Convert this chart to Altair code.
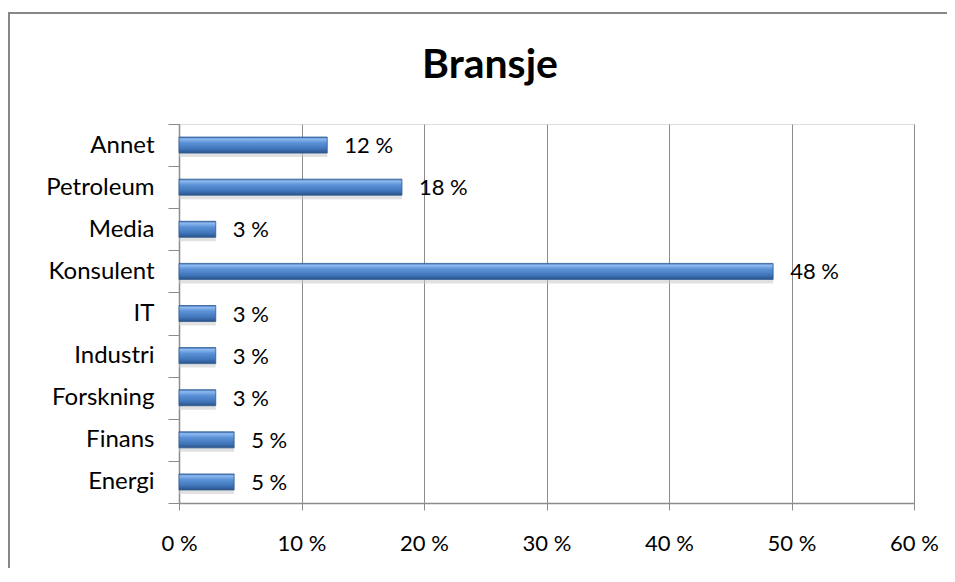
import altair as alt
import pandas as pd

# ---- data ----
categories = ["Annet", "Petroleum", "Media", "Konsulent", "IT",
              "Industri", "Forskning", "Finans", "Energi"]
values = [12.1, 18.2, 3.0, 48.5, 3.0, 3.0, 3.0, 4.5, 4.5]          # percent
value_labels = ["12 %", "18 %", "3 %", "48 %", "3 %", "3 %", "3 %", "5 %", "5 %"]
x_ticks = [0, 10, 20, 30, 40, 50, 60]
title_text = "Bransje"

df = pd.DataFrame({"Bransje": categories, "Andel": values, "Etikett": value_labels})

W, H = 735, 379
PAD = {"left": 171, "top": 116, "right": 33, "bottom": 65}
FONT = "Lato"

x_enc = alt.X(
    "Andel:Q",
    scale=alt.Scale(domain=[0, 60], nice=False, zero=True),
    axis=alt.Axis(
        title=None, values=x_ticks, labelExpr="datum.value + ' %'",
        grid=True, gridColor="#8c8c8c", gridWidth=1,
        domainColor="#8c8c8c", domainWidth=1.5,
        tickColor="#8c8c8c", tickSize=7, tickWidth=1,
        labelFont=FONT, labelFontSize=22, labelColor="#000000",
        labelPadding=23, labelFlush=False,
    ),
)
y_enc = alt.Y(
    "Bransje:N", sort=categories,
    scale=alt.Scale(paddingInner=0, paddingOuter=0),
    axis=alt.Axis(
        title=None, tickBand="extent", grid=False,
        domainColor="#8c8c8c", domainWidth=1.5,
        tickColor="#8c8c8c", tickSize=11, tickWidth=1,
        labelFont=FONT, labelFontSize=24, labelColor="#000000",
        labelPadding=14,
    ),
)

gradient = alt.Gradient(
    gradient="linear", x1=0, x2=0, y1=0, y2=1,
    stops=[
        alt.GradientStop(offset=0.0, color="#3d72bb"),
        alt.GradientStop(offset=0.12, color="#8fbaef"),
        alt.GradientStop(offset=0.35, color="#5c93d8"),
        alt.GradientStop(offset=0.75, color="#3f74b8"),
        alt.GradientStop(offset=1.0, color="#2b5389"),
    ],
)

base = alt.Chart(df)

shadow = base.mark_bar(size=16, color="#c8c8c8", opacity=0.55,
                       yOffset=4, x2Offset=4).encode(x=x_enc, y=y_enc)
bars = base.mark_bar(size=16, fill=gradient, stroke="#2f5b90",
                     strokeWidth=0.8).encode(x=x_enc, y=y_enc)
texts = base.mark_text(align="left", baseline="middle", dx=17, dy=1,
                       font=FONT, fontSize=22, color="#000000").encode(
    x=x_enc, y=y_enc, text="Etikett:N")

frame = alt.Chart(alt.Data(values=[{"b": 1}]))
border = frame.mark_rect(fill=None, stroke="#878787", strokeWidth=2).encode(
    x=alt.value(-170), x2=alt.value(W + 200),
    y=alt.value(-111), y2=alt.value(H + 200))
title = frame.mark_text(font=FONT, fontSize=41, fontWeight="bold",
                        color="#000000", align="center",
                        baseline="alphabetic").encode(
    x=alt.value(311), y=alt.value(-46), text=alt.value(title_text))

chart = alt.layer(border, shadow, bars, texts, title).properties(
    width=W, height=H,
    padding=PAD,
    autosize=alt.AutoSizeParams(type="none"),
).configure_view(stroke=None).configure(background="#ffffff")

chart.save("out.html", embed_options={"renderer": "svg", "actions": False})
